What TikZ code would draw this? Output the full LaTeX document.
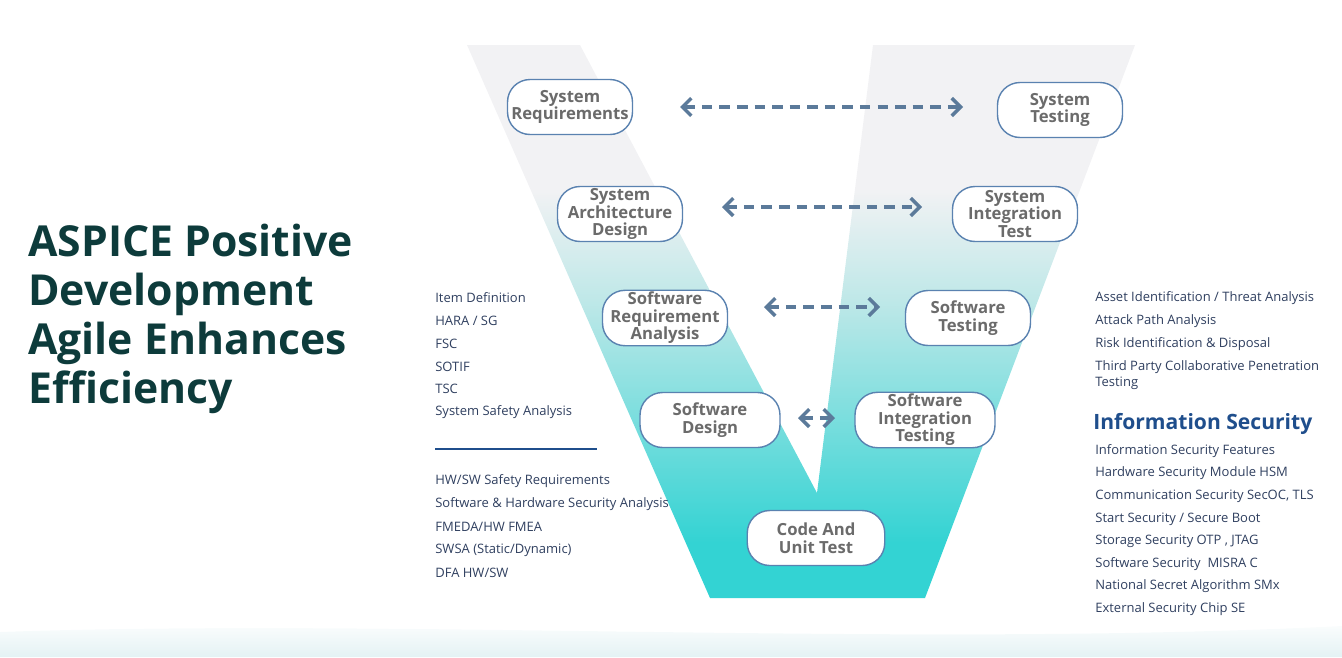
\documentclass[tikz,border=0pt]{standalone}
\usepackage{fontspec}
\setmainfont{Open Sans}
\usetikzlibrary{positioning,arrows.meta}
\definecolor{vtop}{HTML}{F2F2F4}
\definecolor{vmid}{HTML}{BFE8E8}
\definecolor{vbot}{HTML}{33D3D3}
\definecolor{boxline}{HTML}{5A82B0}
\definecolor{boxtext}{HTML}{6B6B6B}
\definecolor{arr}{HTML}{5B7A9A}
\definecolor{title}{HTML}{0D3B3B}
\definecolor{infosec}{HTML}{1F4E8C}
\definecolor{listtext}{HTML}{2F3F5F}
\definecolor{wave}{HTML}{E4F2F4}
\pgfdeclareverticalshading{vfill}{100bp}{color(0bp)=(vbot); color(30bp)=(vbot); color(52bp)=(vmid); color(62bp)=(vtop); color(100bp)=(vtop)}
\begin{document}
\begin{tikzpicture}[x=0.02cm,y=-0.02cm,
  stage/.style={draw=boxline,fill=white,rounded corners=0.45cm,line width=0.8pt,minimum width=2.5cm,minimum height=1.1cm,align=center,inner sep=1pt,text=boxtext,font=\fontsize{9.5}{10}\selectfont\bfseries},
  link/.style={arr,line width=2pt,dash pattern=on 6pt off 4pt,{Straight Barb[length=5pt,width=10pt]}-{Straight Barb[length=5pt,width=10pt]}},
  item/.style={anchor=west,inner sep=0pt,text=listtext,font=\fontsize{7.4}{9}\selectfont}]
\useasboundingbox (0,0) rectangle (1342,657);
% background wave
\shade[top color=white,bottom color=wave] (0,632) .. controls (400,618) and (900,648) .. (1342,626) -- (1342,657) -- (0,657) -- cycle;
% the V
\shade[shading=vfill] (467,45) -- (580,45) -- (817,493) -- (873,45) -- (1135,45) -- (925,598) -- (710,598) -- cycle;
% title
\node[anchor=north west,align=left,text=title,inner sep=0pt,font=\fontsize{24.3}{27.8}\selectfont\bfseries] (heading) at (28,224) {ASPICE Positive\\Development\\Agile Enhances\\Efficiency};
% stages
\node[stage] (sysreq) at (570,107) {System\\Requirements};
\node[stage] (systest) at (1060,110) {System\\Testing};
\node[stage] (sysarch) at (620,214) {System\\Architecture\\Design};
\node[stage] (sysint) at (1015,214) {System\\Integration\\Test};
\node[stage] (swreq) at (665,318) {Software\\Requirement\\Analysis};
\node[stage] (swtest) at (968,318) {Software\\Testing};
\node[stage,minimum width=2.8cm] (swdes) at (710,420) {Software\\Design};
\node[stage,minimum width=2.8cm] (swint) at (925,420) {Software\\Integration\\Testing};
\node[stage,minimum width=2.75cm] (code) at (816,538) {Code And\\Unit Test};
% links
\coordinate (l1a) at (680,107); \coordinate (l1b) at (963,107);
\coordinate (l2a) at (722,207); \coordinate (l2b) at (922,207);
\coordinate (l3a) at (764,307); \coordinate (l3b) at (880,307);
\coordinate (l4a) at (798,418); \coordinate (l4b) at (835,418);
\draw[link] (l1a) -- (l1b);
\draw[link] (l2a) -- (l2b);
\draw[link] (l3a) -- (l3b);
\draw[link] (l4a) -- (l4b);
% left list
\foreach \t [count=\i from 0] in {Item Definition,HARA / SG,FSC,SOTIF,TSC,System Safety Analysis}
  \node[item] (safe\i) at (435,298+22.8*\i) {\t};
\coordinate (sepa) at (435,449); \coordinate (sepb) at (597,449);
\draw[infosec,line width=1pt] (sepa) -- (sepb);
\foreach \t [count=\i from 0] in {HW/SW Safety Requirements,Software \& Hardware Security Analysis,FMEDA/HW FMEA,SWSA (Static/Dynamic),DFA HW/SW}
  \node[item] (hw\i) at (435,481+23*\i) {\t};
% right list
\foreach \t [count=\i from 0] in {Asset Identification / Threat Analysis,Attack Path Analysis,Risk Identification \& Disposal}
  \node[item] (risk\i) at (1095,298+22.8*\i) {\t};
\node[item,anchor=north west,align=left] (risk3) at (1095,360) {Third Party Collaborative Penetration\\Testing};
\node[anchor=west,inner sep=0pt,text=infosec,font=\fontsize{12}{14}\selectfont\bfseries] (infohead) at (1093,424) {Information Security};
\foreach \t [count=\i from 0] in {Information Security Features,Hardware Security Module HSM,{Communication Security SecOC, TLS},Start Security / Secure Boot,{Storage Security OTP , JTAG},Software Security~ MISRA C,National Secret Algorithm SMx,External Security Chip SE}
  \node[item] (info\i) at (1095,451+22.6*\i) {\t};
\end{tikzpicture}
\end{document}
